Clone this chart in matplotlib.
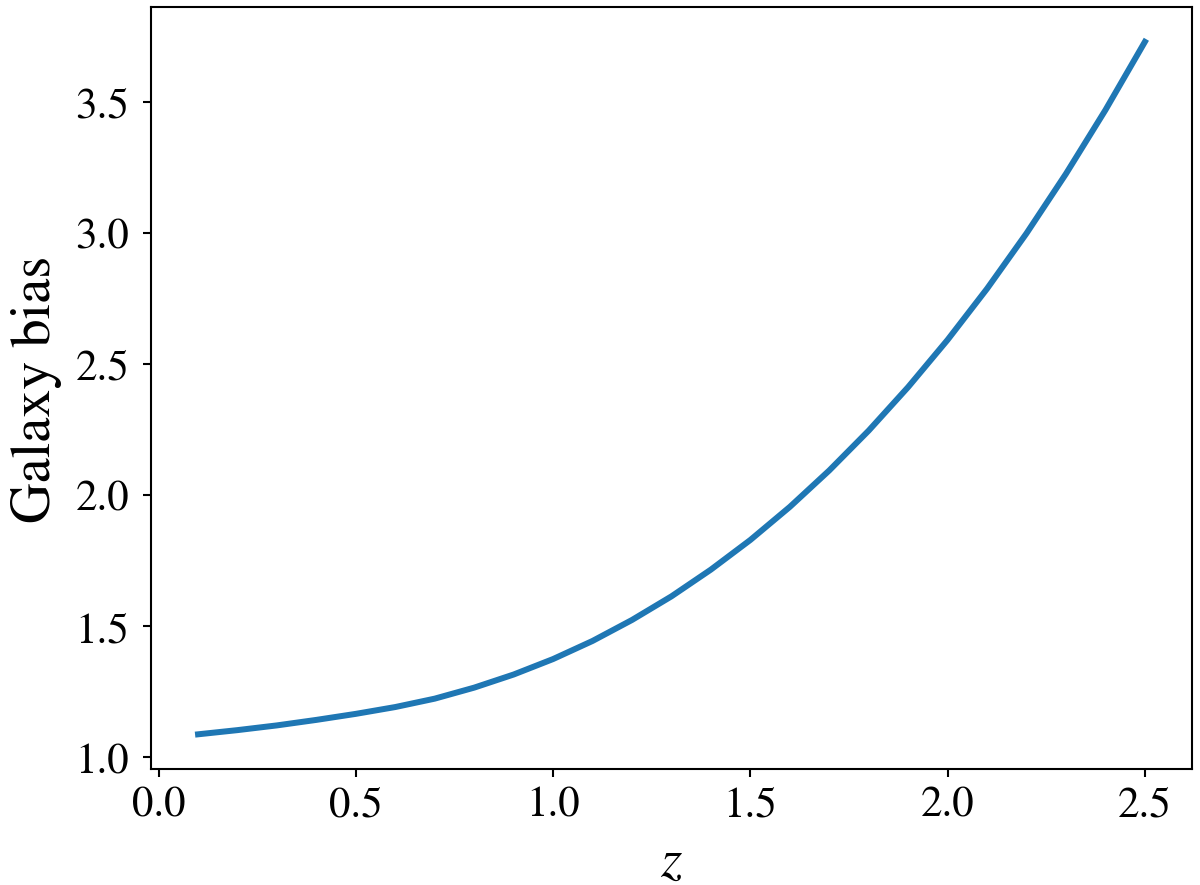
import numpy as np
import matplotlib
matplotlib.use("Agg")
import matplotlib.pyplot as plt

# galaxy bias vs redshift
z = [0.1, 0.2, 0.3, 0.4, 0.5, 0.6, 0.7, 0.8, 0.9, 1.0, 1.1, 1.2, 1.3,
     1.4, 1.5, 1.6, 1.7, 1.8, 1.9, 2.0, 2.1, 2.2, 2.3, 2.4, 2.5]
bias = [1.088, 1.104, 1.122, 1.143, 1.166, 1.192, 1.224, 1.266, 1.316, 1.375,
        1.444, 1.524, 1.614, 1.716, 1.829, 1.955, 2.094, 2.246, 2.412, 2.592,
        2.787, 2.998, 3.225, 3.468, 3.728]

plt.rcParams['font.family'] = 'serif'
plt.rcParams['font.serif'] = ['STIXGeneral', 'Liberation Serif', 'DejaVu Serif']
plt.rcParams['mathtext.fontset'] = 'stix'

fig = plt.figure(figsize=(6.4, 4.7253), dpi=187.5)
ax = fig.add_axes([0.1256, 0.131, 0.8679, 0.8597])

ax.plot(z, bias, color='#1f77b4', lw=2.3, solid_capstyle='projecting')

ax.set_xlabel(r'$z$', fontsize=21, labelpad=5)
ax.set_ylabel('Galaxy bias', fontsize=21.6, labelpad=5)
ax.tick_params(labelsize=16.5, length=3.2)
ax.tick_params(axis='y', pad=5)

fig.savefig("out.png", dpi=187.5)
